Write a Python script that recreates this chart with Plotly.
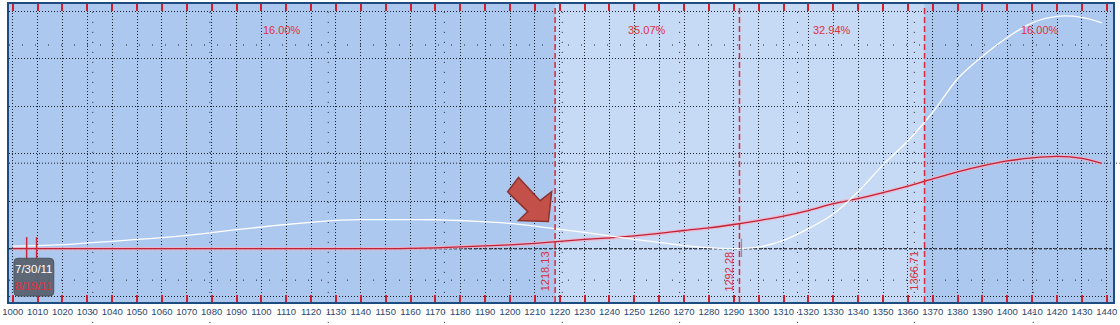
import plotly.graph_objects as go

# ---------------- data ----------------
prices = [1000, 1010, 1020, 1030, 1040, 1050, 1060, 1070, 1080, 1090,
          1100, 1110, 1120, 1130, 1140, 1150, 1160, 1170, 1180, 1190,
          1200, 1210, 1220, 1230, 1240, 1250, 1260, 1270, 1280, 1290,
          1300, 1310, 1320, 1330, 1340, 1350, 1360, 1370, 1380, 1390,
          1400, 1410, 1420, 1430, 1438]
pl_expiry = [26, 32, 42, 60, 77, 97, 116, 139, 168, 200,
             228, 254, 277, 298, 305, 306, 306, 304, 296, 282,
             265, 238, 202, 171, 134, 97, 66, 32, 10, 1,
             16, 87, 210, 365, 599, 882, 1133, 1436, 1789, 2025,
             2223, 2378, 2446, 2435, 2378]
pl_today = [0, 0, 0, 0, 0, 0, 0, 0, 0, 0,
            0, 0, 0, 0, 0, 0, 2, 9, 19, 29,
            40, 55, 76, 97, 113, 134, 160, 191, 218, 254,
            296, 343, 401, 474, 526, 589, 657, 735, 809, 871,
            923, 955, 971, 950, 897]
breakevens = [1218.13, 1292.28, 1366.71]
prob_labels = ["16.00%", "35.07%", "32.94%", "16.00%"]
prob_label_x = [1108.3, 1255.2, 1329.5, 1413.3]
date_labels = ["7/30/11", "8/19/11"]
date_marks = [1005.6, 1009.6]
date_grid_x = [1032.2, 1079.3, 1126.9, 1173.6, 1221.0, 1268.2, 1315.6, 1362.6, 1410.4]
aux_levels_sparse = [2144, -332]
aux_level_fine = 900
tick_values = list(range(1000, 1441, 10))

# ---------------- layout constants ----------------
X_RANGE = [998.5, 1442.5]
Y_RANGE = [-562, 2576]
PX_X = (X_RANGE[1] - X_RANGE[0]) / 1110.0   # data units per px (x)
PX_Y = (Y_RANGE[1] - Y_RANGE[0]) / 300.0    # data units per px (y)

DARK_BLUE = "#adc8ee"
LIGHT_BLUE = "#c6d9f5"
RED = "#d42c3c"
GRID = "#1c2430"

fig = go.Figure()

# red curve halo + line
fig.add_trace(go.Scatter(x=prices, y=pl_today, mode="lines",
                         line=dict(color="rgba(245,175,195,0.75)", width=3.5, shape="spline", smoothing=0.6),
                         hoverinfo="skip"))
fig.add_trace(go.Scatter(x=prices, y=pl_today, mode="lines",
                         line=dict(color="#bf2339", width=1.3, shape="spline", smoothing=0.6),
                         hoverinfo="skip"))
# white expiry curve
fig.add_trace(go.Scatter(x=prices, y=pl_expiry, mode="lines",
                         line=dict(color="white", width=1.3, shape="spline", smoothing=0.8),
                         hoverinfo="skip"))

shapes = []
# background regions
edges = [X_RANGE[0]] + breakevens + [X_RANGE[1]]
region_colors = [DARK_BLUE, LIGHT_BLUE, LIGHT_BLUE, DARK_BLUE]
for i in range(4):
    shapes.append(dict(type="rect", xref="x", yref="paper", x0=edges[i], x1=edges[i + 1],
                       y0=0, y1=1, fillcolor=region_colors[i], line=dict(width=0), layer="below"))
# sparse vertical dotted guides
for gx in date_grid_x:
    shapes.append(dict(type="line", xref="x", yref="paper", x0=gx, x1=gx, y0=-0.07, y1=1,
                       line=dict(color=GRID, width=1, dash="1px,9px"), layer="between"))
# sparse horizontal dotted guides
for lv in aux_levels_sparse:
    shapes.append(dict(type="line", xref="paper", yref="y", x0=0, x1=1, y0=lv, y1=lv,
                       line=dict(color=GRID, width=1, dash="1px,12px"), layer="between"))
shapes.append(dict(type="line", xref="paper", yref="y", x0=0, x1=1.006, y0=aux_level_fine, y1=aux_level_fine,
                   line=dict(color=GRID, width=1, dash="1px,2px"), layer="between"))
# zero line
shapes.append(dict(type="line", xref="paper", yref="y", x0=0, x1=1, y0=0, y1=0,
                   line=dict(color="#454a55", width=1.5, dash="3px,2px"), layer="between"))
# breakeven dashed lines
for be in breakevens:
    shapes.append(dict(type="line", xref="x", yref="paper", x0=be, x1=be, y0=0, y1=0.99,
                       line=dict(color=RED, width=1.5, dash="6px,3px"), layer="above"))
# small grey marker at the middle breakeven
shapes.append(dict(type="line", xref="x", yref="y", x0=breakevens[1] + 0.8, x1=breakevens[1] + 0.8,
                   y0=105, y1=-88, line=dict(color="#8a8f96", width=1.2), layer="above"))
# date marker lines
for dm in date_marks:
    shapes.append(dict(type="line", xref="x", yref="y", x0=dm, x1=dm, y0=121, y1=-133,
                       line=dict(color="#c8283a", width=1.5), layer="above"))

# block arrow (pixel offsets relative to its tip; tip sits ~20px above the curve at the 1st breakeven)
arrow_tip = (breakevens[0] - 2.7, pl_today[22] + 20 * PX_Y)
arrow_px = [(-30, -44.4), (-8.3, -21), (3.3, -30), (0, 0), (-30, -1), (-20.7, -10), (-41, -30)]
pts = [(arrow_tip[0] + ox * PX_X, arrow_tip[1] - oy * PX_Y) for ox, oy in arrow_px]
path = "M " + " L ".join(f"{x:.3f},{y:.3f}" for x, y in pts) + " Z"
shapes.append(dict(type="path", xref="x", yref="y", path=path, fillcolor="#c4504a",
                   line=dict(color="#8c3330", width=1.5), layer="above"))

# date label box (rounded rectangle, px geometry relative to box centre)
box_c = (1008.5, -300)
bw, bh, r = 40, 38, 4
def P(ox, oy):
    return f"{box_c[0] + ox * PX_X:.3f},{box_c[1] - oy * PX_Y:.3f}"
hw, hh = bw / 2, bh / 2
box_path = (f"M {P(-hw + r, -hh)} L {P(hw - r, -hh)} Q {P(hw, -hh)} {P(hw, -hh + r)} "
            f"L {P(hw, hh - r)} Q {P(hw, hh)} {P(hw - r, hh)} L {P(-hw + r, hh)} "
            f"Q {P(-hw, hh)} {P(-hw, hh - r)} L {P(-hw, -hh + r)} Q {P(-hw, -hh)} {P(-hw + r, -hh)} Z")
shapes.append(dict(type="path", xref="x", yref="y", path=box_path, fillcolor="rgba(88,98,110,0.95)",
                   line=dict(color="#4c545e", width=1), layer="above"))

annotations = []
for lx, txt in zip(prob_label_x, prob_labels):
    annotations.append(dict(x=lx, y=2301, xref="x", yref="y", text=txt, showarrow=False,
                            font=dict(family="Liberation Sans, Arial", size=11, color="#e0303e"),
                            xanchor="center", yanchor="middle"))
for be in breakevens:
    annotations.append(dict(x=be, y=-237, xref="x", yref="y", text=f"{be:.2f}", showarrow=False,
                            textangle=-90, xshift=-10,
                            font=dict(family="Liberation Sans, Arial", size=11, color="#d8303e"),
                            xanchor="center", yanchor="middle"))
for txt, dy, col in zip(date_labels, [-8.5, 8.5], ["white", "#e0303a"]):
    annotations.append(dict(x=box_c[0], y=box_c[1] - dy * PX_Y, xref="x", yref="y", text=txt,
                            showarrow=False, xanchor="center", yanchor="middle",
                            font=dict(family="Liberation Sans, Arial", size=11.5, color=col)))

fig.update_layout(
    width=1120, height=325,
    margin=dict(l=3, r=7, t=2, b=23, pad=0),
    paper_bgcolor="white", plot_bgcolor=DARK_BLUE,
    showlegend=False, hovermode=False,
    shapes=shapes, annotations=annotations,
    xaxis=dict(range=X_RANGE, tickmode="array", tickvals=tick_values,
               ticktext=[str(v) for v in tick_values],
               ticks="inside", ticklen=7, tickwidth=2, tickcolor="#d0202e",
               showline=True, linecolor="#1d4d80", linewidth=2, mirror="ticks",
               showgrid=True, gridcolor=GRID, gridwidth=1, griddash="1px,2px",
               zeroline=False, ticklabeloverflow="allow",
               tickfont=dict(family="Liberation Sans, Arial", size=9.5, color="#2a4670")),
    yaxis=dict(range=Y_RANGE, tick0=0, dtick=500, showticklabels=False, ticks="",
               showline=True, linecolor="#1d4d80", linewidth=1.5, mirror=True,
               showgrid=True, gridcolor=GRID, gridwidth=1, griddash="1px,2px",
               zeroline=False),
)

fig.write_html("out.html")
